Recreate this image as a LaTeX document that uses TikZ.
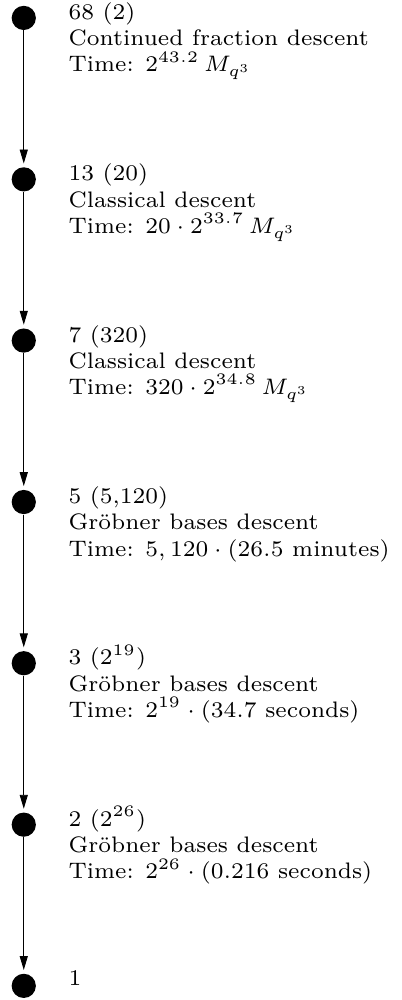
\RequirePackage{fix-cm}
\documentclass[tikz,border=0pt]{standalone}
\usepackage{amsmath}
\usepackage{tikz}
\usetikzlibrary{arrows.meta}
\DeclareMathSizes{7}{7}{5}{3.8}

\begin{document}
\begin{tikzpicture}[
    x=1pt, y=1pt,
    >={Triangle[length=6.2pt, width=3.6pt]},
    dot/.style={circle, fill=black, minimum size=10.8pt, inner sep=0pt},
    info/.style={anchor=base west, align=left, inner sep=0pt,
                 font=\fontsize{7}{8.2}\selectfont, scale=1.4286},
  ]
    \useasboundingbox (0,0) rectangle (179,-446);

    % ---------- descent levels ----------
    \node[dot] (l0) at (10.6,-8.0)   {};
    \node[dot] (l1) at (10.6,-80.0)  {};
    \node[dot] (l2) at (10.6,-151.9) {};
    \node[dot] (l3) at (10.6,-223.9) {};
    \node[dot] (l4) at (10.6,-295.8) {};
    \node[dot] (l5) at (10.6,-367.8) {};
    \node[dot] (l6) at (10.6,-439.7) {};

    % base anchor sits on the last of the three lines
    \node[info] (t0) at (30.3,-32.1)
      {68 (2)\\Continued fraction descent\\Time: $2^{43.2}\,M_{q^3}$};
    \node[info] (t1) at (30.3,-104.1)
      {13 (20)\\Classical descent\\Time: $20\cdot 2^{33.7}\,M_{q^3}$};
    \node[info] (t2) at (30.3,-176.0)
      {7 (320)\\Classical descent\\Time: $320\cdot 2^{34.8}\,M_{q^3}$};
    \node[info] (t3) at (30.3,-248.0)
      {5 (5,120)\\Gr\"obner bases descent\\Time: $5,120\cdot(26.5\text{ minutes})$};
    \node[info] (t4) at (30.3,-319.9)
      {3 ($2^{19}$)\\Gr\"obner bases descent\\Time: $2^{19}\cdot(34.7\text{ seconds})$};
    \node[info] (t5) at (30.3,-391.9)
      {2 ($2^{26}$)\\Gr\"obner bases descent\\Time: $2^{26}\cdot(0.216\text{ seconds})$};
    \node[info] (t6) at (30.3,-439.4) {1};

    \foreach \a/\b in {l0/l1, l1/l2, l2/l3, l3/l4, l4/l5, l5/l6}
      \draw[->, shorten >=1.5pt] (\a) -- (\b);
  \end{tikzpicture}
\end{document}
